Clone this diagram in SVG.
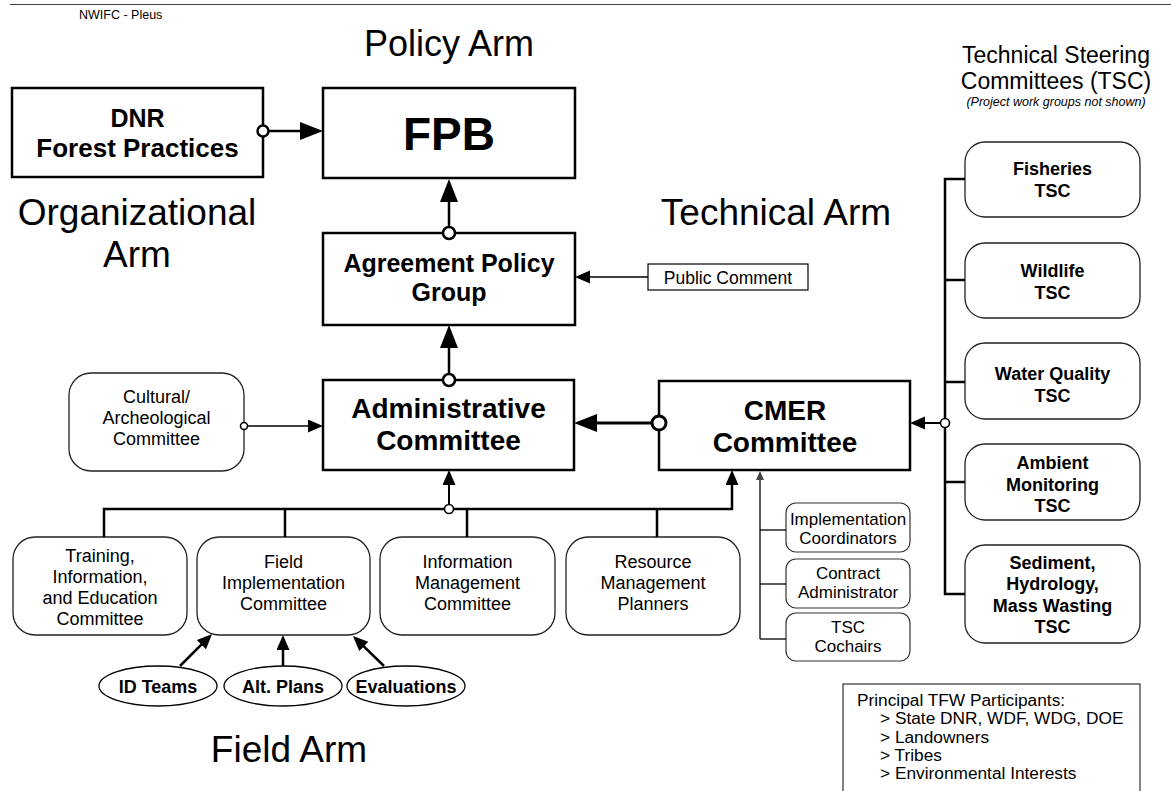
<svg xmlns="http://www.w3.org/2000/svg" width="1171" height="791" viewBox="0 0 1171 791">
<style>
.t{font-family:"Liberation Sans",Arial,Helvetica,sans-serif;fill:#000}
.b{font-weight:bold}
.m{text-anchor:middle}
.box{fill:#fff;stroke:#000;stroke-width:2.5}
.rbox{fill:#fff;stroke:#222;stroke-width:1.3}
.sbox{fill:#fff;stroke:#333;stroke-width:1.2}
.ln{fill:none;stroke:#000}
.c{fill:#fff;stroke:#000}
</style>
<defs>
<marker id="ab" markerUnits="userSpaceOnUse" markerWidth="24" markerHeight="19" refX="13" refY="9" orient="auto"><path d="M0,0 L23,9 L0,18 z" fill="#000"/></marker>
<marker id="am" markerUnits="userSpaceOnUse" markerWidth="16" markerHeight="14" refX="9" refY="6.5" orient="auto"><path d="M0,0 L15,6.5 L0,13 z" fill="#000"/></marker>
<marker id="as" markerUnits="userSpaceOnUse" markerWidth="10" markerHeight="9" refX="5" refY="4" orient="auto"><path d="M0,0 L9,4 L0,8 z" fill="#444"/></marker>
</defs>
<rect width="1171" height="791" fill="#fff"/>
<line x1="10" y1="4.5" x2="1171" y2="4.5" stroke="#444" stroke-width="1"/>
<text class="t" x="79" y="19" font-size="12.5">NWIFC - Pleus</text>
<text class="t m" x="449" y="56" font-size="36">Policy Arm</text>
<text class="t m" x="137" y="225" font-size="37">Organizational</text>
<text class="t m" x="137" y="267" font-size="37">Arm</text>
<text class="t m" x="776" y="225" font-size="37">Technical Arm</text>
<text class="t m" x="289" y="762" font-size="37">Field Arm</text>
<text class="t m" x="1056" y="63" font-size="23">Technical Steering</text>
<text class="t m" x="1056" y="89" font-size="23">Committees (TSC)</text>
<text class="t m" x="1056" y="106" font-size="12.5" font-style="italic">(Project work groups not shown)</text>

<g id="dnr"><rect class="box" x="12" y="88" width="251" height="89"/>
<text class="t b m" x="137.5" y="127" font-size="25">DNR</text>
<text class="t b m" x="137.5" y="157" font-size="26">Forest Practices</text></g>
<g id="fpb"><rect class="box" x="323" y="88" width="252" height="90" stroke-width="3"/>
<text class="t b m" x="449" y="150" font-size="46">FPB</text></g>
<g id="apg"><rect class="box" x="323" y="233" width="252" height="92"/>
<text class="t b m" x="449" y="272" font-size="25">Agreement Policy</text>
<text class="t b m" x="449" y="301" font-size="25">Group</text></g>
<g id="public-comment"><rect x="648" y="264" width="160" height="26" fill="#fff" stroke="#000" stroke-width="1.2"/>
<text class="t m" x="728" y="284" font-size="17.5">Public Comment</text></g>
<g id="admin"><rect class="box" x="323" y="380" width="251" height="90"/>
<text class="t b m" x="448.5" y="418" font-size="28">Administrative</text>
<text class="t b m" x="448.5" y="450" font-size="28">Committee</text></g>
<g id="cmer"><rect class="box" x="659" y="381" width="251" height="89" stroke-width="3"/>
<text class="t b m" x="785" y="420" font-size="28">CMER</text>
<text class="t b m" x="785" y="452" font-size="28">Committee</text></g>
<g id="cultural"><rect class="rbox" x="69" y="373" width="175" height="98" rx="22"/>
<text class="t m" x="156.5" y="403" font-size="18">Cultural/</text>
<text class="t m" x="156.5" y="424" font-size="18">Archeological</text>
<text class="t m" x="156.5" y="445" font-size="18">Committee</text></g>
<g id="training"><rect class="rbox" x="13" y="537" width="174" height="98" rx="22"/>
<text class="t m" x="100" y="562" font-size="18">Training,</text>
<text class="t m" x="100" y="583" font-size="18">Information,</text>
<text class="t m" x="100" y="604" font-size="18">and Education</text>
<text class="t m" x="100" y="625" font-size="18">Committee</text></g>
<g id="field"><rect class="rbox" x="197" y="537" width="173" height="98" rx="22"/>
<text class="t m" x="283.5" y="568" font-size="18">Field</text>
<text class="t m" x="283.5" y="589" font-size="18">Implementation</text>
<text class="t m" x="283.5" y="610" font-size="18">Committee</text></g>
<g id="info"><rect class="rbox" x="380" y="537" width="175" height="98" rx="22"/>
<text class="t m" x="467.5" y="568" font-size="18">Information</text>
<text class="t m" x="467.5" y="589" font-size="18">Management</text>
<text class="t m" x="467.5" y="610" font-size="18">Committee</text></g>
<g id="resource"><rect class="rbox" x="566" y="537" width="174" height="98" rx="22"/>
<text class="t m" x="653" y="568" font-size="18">Resource</text>
<text class="t m" x="653" y="589" font-size="18">Management</text>
<text class="t m" x="653" y="610" font-size="18">Planners</text></g>
<g id="impl"><rect class="sbox" x="786" y="503" width="124" height="49" rx="10"/>
<text class="t m" x="848" y="525" font-size="17">Implementation</text>
<text class="t m" x="848" y="544" font-size="17">Coordinators</text></g>
<g id="contract"><rect class="sbox" x="786" y="559" width="124" height="49" rx="10"/>
<text class="t m" x="848" y="579" font-size="17">Contract</text>
<text class="t m" x="848" y="598" font-size="17">Administrator</text></g>
<g id="cochairs"><rect class="sbox" x="786" y="613" width="124" height="48" rx="10"/>
<text class="t m" x="848" y="633" font-size="17">TSC</text>
<text class="t m" x="848" y="652" font-size="17">Cochairs</text></g>
<g id="fisheries"><rect class="rbox" x="965" y="142" width="175" height="75" rx="20"/>
<text class="t b m" x="1052.5" y="175" font-size="18">Fisheries</text>
<text class="t b m" x="1052.5" y="197" font-size="18">TSC</text></g>
<g id="wildlife"><rect class="rbox" x="965" y="243" width="175" height="75" rx="20"/>
<text class="t b m" x="1052.5" y="277" font-size="18">Wildlife</text>
<text class="t b m" x="1052.5" y="299" font-size="18">TSC</text></g>
<g id="water"><rect class="rbox" x="965" y="343" width="175" height="76" rx="20"/>
<text class="t b m" x="1052.5" y="380" font-size="18">Water Quality</text>
<text class="t b m" x="1052.5" y="402" font-size="18">TSC</text></g>
<g id="ambient"><rect class="rbox" x="965" y="444" width="175" height="76" rx="20"/>
<text class="t b m" x="1052.5" y="469" font-size="18">Ambient</text>
<text class="t b m" x="1052.5" y="491" font-size="18">Monitoring</text>
<text class="t b m" x="1052.5" y="512" font-size="18">TSC</text></g>
<g id="sediment"><rect class="rbox" x="965" y="545" width="175" height="98" rx="20"/>
<text class="t b m" x="1052.5" y="569" font-size="18">Sediment,</text>
<text class="t b m" x="1052.5" y="590" font-size="18">Hydrology,</text>
<text class="t b m" x="1052.5" y="612" font-size="18">Mass Wasting</text>
<text class="t b m" x="1052.5" y="633" font-size="18">TSC</text></g>
<g id="id-teams"><ellipse cx="158" cy="686" rx="59" ry="20" fill="#fff" stroke="#000" stroke-width="1.3"/>
<text class="t b m" x="158" y="693" font-size="18">ID Teams</text></g>
<g id="alt-plans"><ellipse cx="283" cy="686" rx="59" ry="20" fill="#fff" stroke="#000" stroke-width="1.3"/>
<text class="t b m" x="283" y="693" font-size="18">Alt. Plans</text></g>
<g id="evaluations"><ellipse cx="406" cy="686" rx="59" ry="20" fill="#fff" stroke="#000" stroke-width="1.3"/>
<text class="t b m" x="406" y="693" font-size="18">Evaluations</text></g>
<g id="legend"><rect x="843" y="684" width="297" height="130" fill="#fff" stroke="#333" stroke-width="1.2"/>
<text class="t" x="857" y="706" font-size="17.3">Principal TFW Participants:</text>
<text class="t" x="880" y="724" font-size="17.3">&gt; State DNR, WDF, WDG, DOE</text>
<text class="t" x="880" y="743" font-size="17.3">&gt; Landowners</text>
<text class="t" x="880" y="761" font-size="17.3">&gt; Tribes</text>
<text class="t" x="880" y="779" font-size="17.3">&gt; Environmental Interests</text></g>

<g id="connectors">
<line class="ln" x1="268" y1="131" x2="313" y2="131" stroke-width="2.5" marker-end="url(#ab)"/>
<line class="ln" x1="449" y1="227" x2="449" y2="189" stroke-width="2.5" marker-end="url(#ab)"/>
<line class="ln" x1="449" y1="374" x2="449" y2="335" stroke-width="2.5" marker-end="url(#ab)"/>
<line class="ln" x1="652" y1="423" x2="584" y2="423" stroke-width="3" marker-end="url(#ab)"/>
<line class="ln" x1="648" y1="277" x2="581" y2="277" stroke-width="1.6" marker-end="url(#am)"/>
<line class="ln" x1="247" y1="426" x2="317" y2="426" stroke-width="1.6" marker-end="url(#am)"/>
<line class="ln" x1="941" y1="423" x2="916" y2="423" stroke-width="2" marker-end="url(#am)"/>
<polyline class="ln" points="104,537 104,509 732,509 732,476" stroke-width="2.5" marker-end="url(#am)"/>
<line class="ln" x1="285" y1="509" x2="285" y2="537" stroke-width="2.5"/>
<line class="ln" x1="467" y1="509" x2="467" y2="537" stroke-width="2.5"/>
<line class="ln" x1="657" y1="509" x2="657" y2="537" stroke-width="2.5"/>
<line class="ln" x1="449" y1="505" x2="449" y2="476" stroke-width="2" marker-end="url(#am)"/>
<line class="ln" x1="760" y1="639" x2="760" y2="475" stroke="#555" stroke-width="1.3" marker-end="url(#as)"/>
<line class="ln" x1="760" y1="530" x2="786" y2="530" stroke="#555" stroke-width="1.3"/>
<line class="ln" x1="760" y1="584" x2="786" y2="584" stroke="#555" stroke-width="1.3"/>
<line class="ln" x1="760" y1="639" x2="786" y2="639" stroke="#555" stroke-width="1.3"/>
<polyline class="ln" points="965,179 945,179 945,594 965,594" stroke-width="2.5"/>
<line class="ln" x1="945" y1="280" x2="965" y2="280" stroke-width="2.5"/>
<line class="ln" x1="945" y1="382" x2="965" y2="382" stroke-width="2.5"/>
<line class="ln" x1="945" y1="482" x2="965" y2="482" stroke-width="2.5"/>
<line class="ln" x1="180" y1="666" x2="207.8" y2="638.2" stroke-width="2.5" marker-end="url(#am)"/>
<line class="ln" x1="283" y1="666" x2="283" y2="641" stroke-width="2.5" marker-end="url(#am)"/>
<line class="ln" x1="384" y1="666" x2="357.3" y2="640.2" stroke-width="2.5" marker-end="url(#am)"/>
<circle class="c" cx="263" cy="131" r="5.5" stroke-width="2.5"/>
<circle class="c" cx="449" cy="233" r="6" stroke-width="2.5"/>
<circle class="c" cx="449" cy="380" r="6" stroke-width="2.5"/>
<circle class="c" cx="659" cy="423" r="7" stroke-width="3"/>
<circle class="c" cx="244" cy="426" r="3.5" stroke-width="1.6"/>
<circle class="c" cx="449" cy="509" r="4.5" stroke-width="1.6"/>
<circle class="c" cx="945" cy="423" r="4.5" stroke-width="1.6"/>
</g>
</svg>
